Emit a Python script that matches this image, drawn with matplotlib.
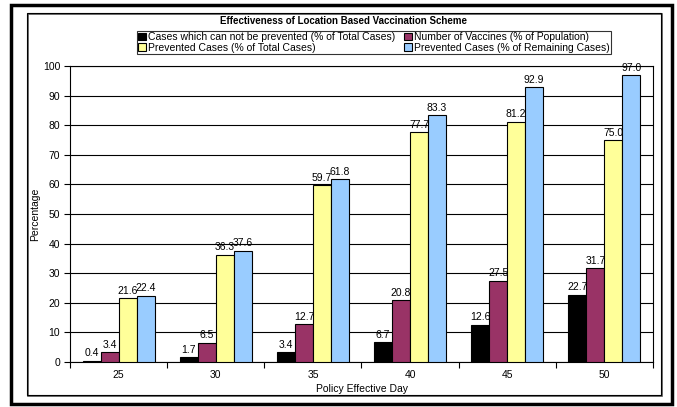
import matplotlib
matplotlib.use("Agg")
import matplotlib.pyplot as plt
from matplotlib.patches import Rectangle, Patch
import numpy as np

plt.rcParams['font.family'] = ['Liberation Sans', 'DejaVu Sans']

days = ["25", "30", "35", "40", "45", "50"]
series_names = [
    "Cases which can not be prevented (% of Total Cases)",
    "Number of Vaccines (% of Population)",
    "Prevented Cases (% of Total Cases)",
    "Prevented Cases (% of Remaining Cases)",
]
cannot_prevent = [0.4, 1.7, 3.4, 6.7, 12.6, 22.7]
vaccines = [3.4, 6.5, 12.7, 20.8, 27.5, 31.7]
prevented_total = [21.6, 36.3, 59.7, 77.7, 81.2, 75.0]
prevented_remaining = [22.4, 37.6, 61.8, 83.3, 92.9, 97.0]
colors = ["#000000", "#993366", "#FFFF99", "#99CCFF"]

W, H = 677, 407
fig = plt.figure(figsize=(W / 100, H / 100), dpi=100)

def fx(x):
    return x / W

def fy(y):
    return 1 - y / H

# outer thick frame
fig.patches.append(Rectangle((fx(11), fy(404)), fx(672) - fx(11), fy(5) - fy(404),
                             transform=fig.transFigure, fill=False, lw=2.5, ec="black"))
# inner frame shadow + frame
fig.patches.append(Rectangle((fx(28), fy(396)), fx(662) - fx(28), fy(14) - fy(396),
                             transform=fig.transFigure, fill=False, lw=1.2, ec="#555555"))
fig.patches.append(Rectangle((fx(27), fy(395)), fx(661) - fx(27), fy(13) - fy(395),
                             transform=fig.transFigure, fill=False, lw=0.8, ec="black"))

ax = fig.add_axes([fx(70), fy(362), fx(653) - fx(70), fy(66) - fy(362)])

data = [cannot_prevent, vaccines, prevented_total, prevented_remaining]
x = np.arange(len(days))
bw = 0.185
for i, (vals, c) in enumerate(zip(data, colors)):
    pos = x + (i - 1.5) * bw
    ax.bar(pos, vals, width=bw, color=c, edgecolor="black", linewidth=0.8, zorder=3)
    for px, v in zip(pos, vals):
        ax.text(px, v + 0.8, f"{v:.1f}", ha="center", va="bottom", fontsize=7.5, zorder=4)

ax.set_xlim(-0.5, len(days) - 0.5)
ax.set_ylim(0, 100)
ax.set_yticks(np.arange(0, 101, 10))
ax.set_xticks(x)
ax.set_xticklabels(days)
ax.set_xticks(np.arange(-0.5, len(days)), minor=True)
ax.tick_params(axis="x", which="major", length=0, labelsize=7.5, pad=6)
ax.tick_params(axis="x", which="minor", length=4, width=0.8, direction="out")
ax.tick_params(axis="y", length=4, width=0.8, labelsize=7.5, pad=3)
ax.grid(axis="y", color="black", linewidth=0.8, zorder=0)
for s in ax.spines.values():
    s.set_linewidth(0.8)
    s.set_color("black")

ax.set_xlabel("Policy Effective Day", fontsize=7.5, labelpad=3)
ax.set_ylabel("Percentage", fontsize=7.5, labelpad=2)

fig.text(fx(344), fy(21), "Effectiveness of Location Based Vaccination Scheme",
         ha="center", va="center", fontsize=7, fontweight="bold")

handles = [Patch(facecolor=c, edgecolor="black", linewidth=0.8) for c in colors]
order = [0, 2, 1, 3]
leg = fig.legend([handles[i] for i in order], [series_names[i] for i in order],
                 ncol=2, loc="center", bbox_to_anchor=(fx(374), fy(42.5)),
                 fontsize=7.5, frameon=True, fancybox=False, handlelength=0.7,
                 handleheight=0.7, handletextpad=0.2, columnspacing=0.9,
                 borderpad=0.1, labelspacing=0.05, borderaxespad=0)
leg.get_frame().set_edgecolor("black")
leg.get_frame().set_linewidth(0.8)

fig.savefig("out.png", dpi=100)
